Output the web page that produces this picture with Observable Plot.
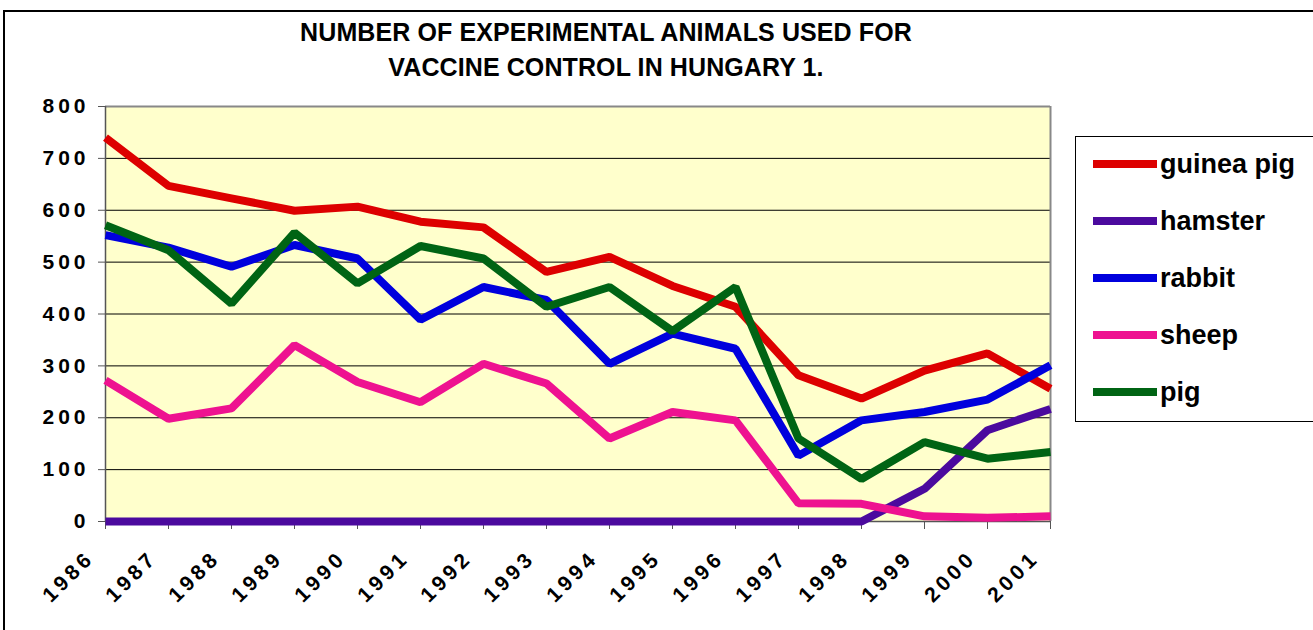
<!DOCTYPE html>
<html>
<head>
<meta charset="utf-8">
<script src="https://cdn.jsdelivr.net/npm/d3@7"></script>
<script src="https://cdn.jsdelivr.net/npm/@observablehq/plot@0.6"></script>
<style>
  html, body { margin: 0; padding: 0; width: 1313px; height: 630px; overflow: hidden; background: #fff; font-family: "Liberation Sans", Arial, sans-serif; }
  #wrap { position: relative; width: 1313px; height: 630px; }
  #chart { position: absolute; left: 0; top: 0; }
  #frame { position: absolute; left: 3px; top: 10px; width: 1400px; height: 700px; border: 2px solid #000; box-sizing: border-box; pointer-events: none; }
  #title { position: absolute; left: 0; top: 15px; width: 1212px; text-align: center; font-weight: bold; font-size: 25px; line-height: 35px; color: #000; letter-spacing: 0.1px; }
  #legend { position: absolute; left: 1075px; top: 136px; width: 260px; height: 286px; border: 1px solid #000; background: #fff; box-sizing: border-box; }
  .item { position: absolute; left: 0; height: 40px; display: flex; align-items: center; }
  .sw { width: 64px; height: 8px; margin-left: 17px; }
  .lab { margin-left: 3px; font-weight: bold; font-size: 27px; color: #000; }
</style>
</head>
<body>
<div id="wrap">
  <div id="chart"></div>
  <div id="title">NUMBER OF EXPERIMENTAL ANIMALS USED FOR<br>VACCINE CONTROL IN HUNGARY 1.</div>
  <div id="legend"></div>
  <div id="frame"></div>
</div>
<script>
const years = [1986,1987,1988,1989,1990,1991,1992,1993,1994,1995,1996,1997,1998,1999,2000,2001];
const seriesNames = ["guinea pig","hamster","rabbit","sheep","pig"];
const seriesColors = ["#DD0000","#4B0A9E","#0000DD","#EE1290","#006414"];
const guineaPig = [740, 647, 623, 599, 607, 578, 567, 481, 510, 454, 414, 282, 237, 291, 324, 256];
const hamster   = [0, 0, 0, 0, 0, 0, 0, 0, 0, 0, 0, 0, 0, 63, 176, 217];
const rabbit    = [552, 528, 491, 533, 507, 389, 452, 427, 304, 362, 333, 127, 195, 211, 235, 301];
const sheep     = [272, 198, 218, 340, 269, 230, 304, 266, 160, 211, 195, 35, 34, 10, 7, 10];
const pig       = [571, 523, 420, 557, 459, 531, 507, 414, 452, 367, 452, 160, 82, 153, 121, 134];
const yTicks = [0,100,200,300,400,500,600,700,800];

const seriesValues = [guineaPig, hamster, rabbit, sheep, pig];
const data = [];
seriesNames.forEach((name, i) => {
  years.forEach((yr, j) => data.push({series: name, year: yr, value: seriesValues[i][j]}));
});

const chart = Plot.plot({
  width: 1313,
  height: 630,
  marginLeft: 105,
  marginRight: 263,
  marginTop: 106,
  marginBottom: 109,
  style: {background: "transparent", fontFamily: "'Liberation Sans', Arial, sans-serif"},
  x: {type: "linear", domain: [1986, 2001]},
  y: {domain: [0, 800]},
  color: {domain: seriesNames, range: seriesColors},
  marks: [
    Plot.frame({fill: "#FFFFCC", stroke: null}),
    Plot.gridY(yTicks.filter(d => d < 800), {stroke: "#000", strokeOpacity: 1, strokeWidth: 1}),
    Plot.ruleY([800], {stroke: "#888", strokeWidth: 2}),
    Plot.ruleX([2001], {stroke: "#888", strokeWidth: 2}),
    Plot.ruleX([1986], {stroke: "#555", strokeWidth: 1.5}),
    Plot.ruleY([0], {stroke: "#555", strokeWidth: 1.5}),
    Plot.axisY(yTicks, {tickSize: 7, tickPadding: 9, stroke: "#555", fontSize: 21, fontWeight: "bold", fill: "#000", label: null}),
    Plot.axisX(years, {tickSize: 8, stroke: "#555", text: null, label: null}),
    Plot.axisX(years, {tickSize: 0, tickPadding: 0, tickRotate: -45, textAnchor: "end", lineAnchor: "middle", dx: -15, dy: 33, tickFormat: d => String(d), fontSize: 21, fontWeight: "bold", fill: "#000", label: null}),
    Plot.line(data, {x: "year", y: "value", z: "series", stroke: "series", strokeWidth: 8, strokeLinejoin: "miter", strokeLinecap: "butt"})
  ]
});
d3.select(chart).selectAll("text").filter(function() {
  return /^\d+$/.test(this.textContent.trim());
}).attr("letter-spacing", "4px");
document.getElementById("chart").appendChild(chart);

const legend = document.getElementById("legend");
const legendTops = [7, 64, 121, 178, 235];
seriesNames.forEach((name, i) => {
  const item = document.createElement("div");
  item.className = "item";
  item.style.top = legendTops[i] + "px";
  item.innerHTML = `<div class="sw" style="background:${seriesColors[i]}"></div><div class="lab">${name}</div>`;
  legend.appendChild(item);
});
</script>
</body>
</html>
